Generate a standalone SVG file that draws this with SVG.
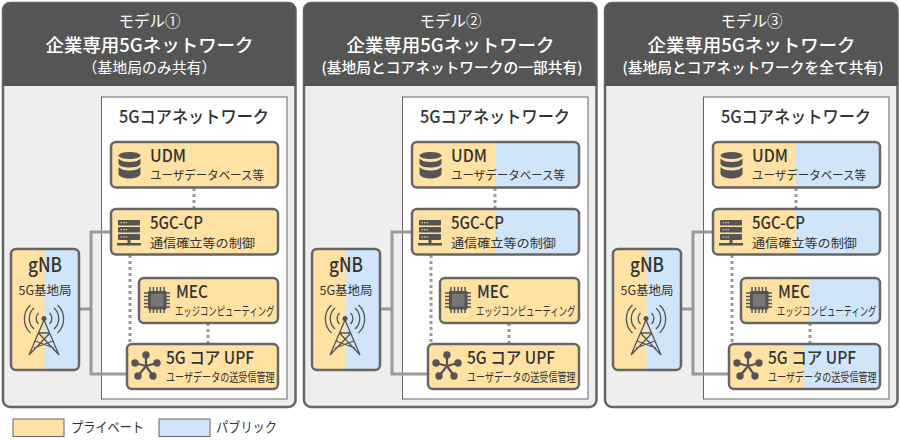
<svg xmlns="http://www.w3.org/2000/svg" xmlns:xlink="http://www.w3.org/1999/xlink" width="900" height="440" viewBox="0 0 900 440">
<style>
text{font-family:"Noto Sans CJK JP","Noto Sans",sans-serif;fill:#333}
.h{fill:#fff;text-anchor:middle}
.h1{font-size:15.500px}
.h2{font-size:18px;font-weight:500}
.h3{font-size:15px}
.h4{font-size:14.500px;font-weight:500}
.t{font-size:17px;font-weight:500}
.s{font-size:12.500px}
.o{fill:#FFE1A4}
.b{fill:#D0E5F9}
.e{fill:none;stroke:#666;stroke-width:2.500}
.panel{fill:#EEE;stroke:#666;stroke-width:2.500}
.head{fill:#555}
.core{fill:#fff;stroke:#666;stroke-width:1}
.solid{fill:none;stroke:#999;stroke-width:3}
.dot{fill:none;stroke:#999;stroke-width:3;stroke-dasharray:3 3}
.i{fill:#555}
.il{fill:none;stroke:#555;stroke-width:1.300}
</style>
<defs>
<g id="i-db"><ellipse class="i" cx="129.500" cy="155.500" rx="11" ry="3.500"/><path class="i" d="M118.500 158.500c2 2.500 6 3.500 11 3.500s9-1 11-3.500v5.500c-1 2.500-6 3.500-11 3.500s-10-1-11-3.500z"/><path class="i" d="M118.500 167c2 2.500 6 3.500 11 3.500s9-1 11-3.500v7c-1 3-6 4.500-11 4.500s-10-1.500-11-4.500z"/></g>
<g id="i-srv"><rect class="i" x="118" y="220" width="22" height="5.500" rx="1"/><rect class="i" x="118" y="227" width="22" height="5.500" rx="1"/><rect class="i" x="118" y="234" width="22" height="6" rx="1"/><rect class="i" x="127.500" y="240" width="3" height="3"/><rect class="i" x="117" y="243" width="24" height="2.500"/><path d="M120.500 222.700h7M120.500 229.700h7M120.500 237h7" stroke="#FFE1A4" stroke-width="1" stroke-dasharray="1.500 1"/></g>
<g id="i-chip"><path d="M150 287v26M153.500 287v26M157 287v26M160.500 287v26M164 287v26M144 293h26M144 296.500h26M144 300h26M144 303.500h26M144 307h26" stroke="#555" stroke-width="1.500" fill="none"/><rect class="i" x="148" y="291" width="18.500" height="18.500" rx="1"/><rect x="151" y="294" width="12.500" height="12.500" fill="#777"/></g>
<g id="i-hub"><path d="M146 366L146 355M146 366L135 363M146 366L138 376M146 366L153 376M146 366L157 363" stroke="#555" stroke-width="2.200"/><circle class="i" cx="146" cy="355" r="3.700"/><circle class="i" cx="135" cy="363" r="3.700"/><circle class="i" cx="138" cy="376" r="3.700"/><circle class="i" cx="153" cy="376" r="3.700"/><circle class="i" cx="157" cy="363" r="3.700"/></g>
<g id="i-tower"><circle class="i" cx="44" cy="318.500" r="2.500"/><path class="il" d="M44 320L29 355M44 320L59 355M38.500 333L50 333M35 341L54 348M53 341L34 348M29 355L50 333M59 355L38.500 333"/><path class="il" d="M38.500 324a7.500 7.500 0 0 1 0-11M49.500 324a7.500 7.500 0 0 0 0-11M34 329a14 14 0 0 1 0-21M54 329a14 14 0 0 0 0-21M30.500 333a19 19 0 0 1 0-28M57.500 333a19 19 0 0 0 0-28"/></g>
</defs>

<g id="model1" transform="translate(0 0)">
<g id="m1-frame"><rect class="panel" x="3" y="3" width="292.500" height="404" rx="7"/><path class="head" d="M3 86V10a7 7 0 0 1 7-7h278.500a7 7 0 0 1 7 7v76z"/>
<text class="h h1" x="149.500" y="27" textLength="62" lengthAdjust="spacingAndGlyphs">モデル①</text>
<text class="h h2" x="149.500" y="52" textLength="208" lengthAdjust="spacingAndGlyphs">企業専用5Gネットワーク</text>
<text class="h h3" x="149.500" y="73" textLength="134" lengthAdjust="spacingAndGlyphs">（基地局のみ共有）</text></g>
<g id="m1-core"><rect class="core" x="101.500" y="97" width="185.500" height="302"/><text class="t" x="119" y="123" textLength="150" lengthAdjust="spacingAndGlyphs">5Gコアネットワーク</text></g>
<g id="m1-connectors"><path class="solid" d="M79 309H91M110 232H91V374H127"/><path class="dot" d="M194 188V209M130 255V344M208 323V344"/></g>
<g id="m1-udm"><rect class="o" x="111" y="142" width="167" height="45.500" rx="5"/><rect class="e" x="111" y="142" width="167" height="45.500" rx="5"/><use href="#i-db"/><text class="t" x="150" y="162" textLength="36" lengthAdjust="spacingAndGlyphs">UDM</text><text class="s" x="150" y="180" textLength="114" lengthAdjust="spacingAndGlyphs">ユーザデータベース等</text></g>
<g id="m1-cp"><rect class="o" x="111" y="209" width="167" height="45.500" rx="5"/><rect class="e" x="111" y="209" width="167" height="45.500" rx="5"/><use href="#i-srv"/><text class="t" x="150" y="229" textLength="53" lengthAdjust="spacingAndGlyphs">5GC-CP</text><text class="s" x="150" y="248" textLength="105" lengthAdjust="spacingAndGlyphs">通信確立等の制御</text></g>
<g id="m1-mec"><rect class="o" x="139" y="278" width="139" height="45" rx="5"/><rect class="e" x="139" y="278" width="139" height="45" rx="5"/><use href="#i-chip"/><text class="t" x="176" y="298" textLength="32" lengthAdjust="spacingAndGlyphs">MEC</text><text class="s" transform="translate(175 316) scale(.667 1)">エッジコンピューティング</text></g>
<g id="m1-upf"><rect class="o" x="127" y="344" width="151" height="45" rx="5"/><rect class="e" x="127" y="344" width="151" height="45" rx="5"/><use href="#i-hub"/><text class="t" x="166" y="364" textLength="88" lengthAdjust="spacingAndGlyphs">5G コア UPF</text><text class="s" transform="translate(166 382) scale(.727 1)">ユーザデータの送受信管理</text></g>
<g id="m1-gnb"><rect class="o" x="11" y="249" width="68" height="121" rx="5"/><path class="b" d="M44.500 249H74a5 5 0 0 1 5 5V365a5 5 0 0 1-5 5H44.500z"/><rect class="e" x="11" y="249" width="68" height="121" rx="5"/><text class="t" x="45" y="272" text-anchor="middle" style="font-size:20px" textLength="34" lengthAdjust="spacingAndGlyphs">gNB</text><text class="s" x="45" y="295" text-anchor="middle" textLength="53" lengthAdjust="spacingAndGlyphs">5G基地局</text><use href="#i-tower"/></g>
</g>

<g id="model2" transform="translate(301 0)">
<g id="m2-frame"><rect class="panel" x="3" y="3" width="292.500" height="404" rx="7"/><path class="head" d="M3 86V10a7 7 0 0 1 7-7h278.500a7 7 0 0 1 7 7v76z"/>
<text class="h h1" x="149.500" y="27" textLength="62" lengthAdjust="spacingAndGlyphs">モデル②</text>
<text class="h h2" x="149.500" y="52" textLength="208" lengthAdjust="spacingAndGlyphs">企業専用5Gネットワーク</text>
<text class="h h4" x="151" y="73" textLength="261" lengthAdjust="spacingAndGlyphs">(基地局とコアネットワークの一部共有)</text></g>
<g id="m2-core"><rect class="core" x="101.500" y="97" width="185.500" height="302"/><text class="t" x="119" y="123" textLength="150" lengthAdjust="spacingAndGlyphs">5Gコアネットワーク</text></g>
<g id="m2-connectors"><path class="solid" d="M79 309H91M110 232H91V374H127"/><path class="dot" d="M194 188V209M130 255V344M208 323V344"/></g>
<g id="m2-udm"><rect class="o" x="111" y="142" width="167" height="45.500" rx="5"/><path class="b" d="M194 142H273a5 5 0 0 1 5 5V182.500a5 5 0 0 1-5 5H194z"/><rect class="e" x="111" y="142" width="167" height="45.500" rx="5"/><use href="#i-db"/><text class="t" x="150" y="162" textLength="36" lengthAdjust="spacingAndGlyphs">UDM</text><text class="s" x="150" y="180" textLength="114" lengthAdjust="spacingAndGlyphs">ユーザデータベース等</text></g>
<g id="m2-cp"><rect class="o" x="111" y="209" width="167" height="45.500" rx="5"/><path class="b" d="M194 209H273a5 5 0 0 1 5 5V249.500a5 5 0 0 1-5 5H194z"/><rect class="e" x="111" y="209" width="167" height="45.500" rx="5"/><use href="#i-srv"/><text class="t" x="150" y="229" textLength="53" lengthAdjust="spacingAndGlyphs">5GC-CP</text><text class="s" x="150" y="248" textLength="105" lengthAdjust="spacingAndGlyphs">通信確立等の制御</text></g>
<g id="m2-mec"><rect class="o" x="139" y="278" width="139" height="45" rx="5"/><rect class="e" x="139" y="278" width="139" height="45" rx="5"/><use href="#i-chip"/><text class="t" x="176" y="298" textLength="32" lengthAdjust="spacingAndGlyphs">MEC</text><text class="s" transform="translate(175 316) scale(.667 1)">エッジコンピューティング</text></g>
<g id="m2-upf"><rect class="o" x="127" y="344" width="151" height="45" rx="5"/><rect class="e" x="127" y="344" width="151" height="45" rx="5"/><use href="#i-hub"/><text class="t" x="166" y="364" textLength="88" lengthAdjust="spacingAndGlyphs">5G コア UPF</text><text class="s" transform="translate(166 382) scale(.727 1)">ユーザデータの送受信管理</text></g>
<g id="m2-gnb"><rect class="o" x="11" y="249" width="68" height="121" rx="5"/><path class="b" d="M44.500 249H74a5 5 0 0 1 5 5V365a5 5 0 0 1-5 5H44.500z"/><rect class="e" x="11" y="249" width="68" height="121" rx="5"/><text class="t" x="45" y="272" text-anchor="middle" style="font-size:20px" textLength="34" lengthAdjust="spacingAndGlyphs">gNB</text><text class="s" x="45" y="295" text-anchor="middle" textLength="53" lengthAdjust="spacingAndGlyphs">5G基地局</text><use href="#i-tower"/></g>
</g>

<g id="model3" transform="translate(602 0)">
<g id="m3-frame"><rect class="panel" x="3" y="3" width="292.500" height="404" rx="7"/><path class="head" d="M3 86V10a7 7 0 0 1 7-7h278.500a7 7 0 0 1 7 7v76z"/>
<text class="h h1" x="149.500" y="27" textLength="62" lengthAdjust="spacingAndGlyphs">モデル③</text>
<text class="h h2" x="149.500" y="52" textLength="208" lengthAdjust="spacingAndGlyphs">企業専用5Gネットワーク</text>
<text class="h h4" x="151" y="73" textLength="261" lengthAdjust="spacingAndGlyphs">(基地局とコアネットワークを全て共有)</text></g>
<g id="m3-core"><rect class="core" x="101.500" y="97" width="185.500" height="302"/><text class="t" x="119" y="123" textLength="150" lengthAdjust="spacingAndGlyphs">5Gコアネットワーク</text></g>
<g id="m3-connectors"><path class="solid" d="M79 309H91M110 232H91V374H127"/><path class="dot" d="M194 188V209M130 255V344M208 323V344"/></g>
<g id="m3-udm"><rect class="o" x="111" y="142" width="167" height="45.500" rx="5"/><path class="b" d="M194 142H273a5 5 0 0 1 5 5V182.500a5 5 0 0 1-5 5H194z"/><rect class="e" x="111" y="142" width="167" height="45.500" rx="5"/><use href="#i-db"/><text class="t" x="150" y="162" textLength="36" lengthAdjust="spacingAndGlyphs">UDM</text><text class="s" x="150" y="180" textLength="114" lengthAdjust="spacingAndGlyphs">ユーザデータベース等</text></g>
<g id="m3-cp"><rect class="o" x="111" y="209" width="167" height="45.500" rx="5"/><path class="b" d="M194 209H273a5 5 0 0 1 5 5V249.500a5 5 0 0 1-5 5H194z"/><rect class="e" x="111" y="209" width="167" height="45.500" rx="5"/><use href="#i-srv"/><text class="t" x="150" y="229" textLength="53" lengthAdjust="spacingAndGlyphs">5GC-CP</text><text class="s" x="150" y="248" textLength="105" lengthAdjust="spacingAndGlyphs">通信確立等の制御</text></g>
<g id="m3-mec"><rect class="o" x="139" y="278" width="139" height="45" rx="5"/><path class="b" d="M207.500 278H273a5 5 0 0 1 5 5V318a5 5 0 0 1-5 5H207.500z"/><rect class="e" x="139" y="278" width="139" height="45" rx="5"/><use href="#i-chip"/><text class="t" x="176" y="298" textLength="32" lengthAdjust="spacingAndGlyphs">MEC</text><text class="s" transform="translate(175 316) scale(.667 1)">エッジコンピューティング</text></g>
<g id="m3-upf"><rect class="o" x="127" y="344" width="151" height="45" rx="5"/><path class="b" d="M201 344H273a5 5 0 0 1 5 5V384a5 5 0 0 1-5 5H201z"/><rect class="e" x="127" y="344" width="151" height="45" rx="5"/><use href="#i-hub"/><text class="t" x="166" y="364" textLength="88" lengthAdjust="spacingAndGlyphs">5G コア UPF</text><text class="s" transform="translate(166 382) scale(.727 1)">ユーザデータの送受信管理</text></g>
<g id="m3-gnb"><rect class="o" x="11" y="249" width="68" height="121" rx="5"/><path class="b" d="M44.500 249H74a5 5 0 0 1 5 5V365a5 5 0 0 1-5 5H44.500z"/><rect class="e" x="11" y="249" width="68" height="121" rx="5"/><text class="t" x="45" y="272" text-anchor="middle" style="font-size:20px" textLength="34" lengthAdjust="spacingAndGlyphs">gNB</text><text class="s" x="45" y="295" text-anchor="middle" textLength="53" lengthAdjust="spacingAndGlyphs">5G基地局</text><use href="#i-tower"/></g>
</g>

<g id="legend">
<rect class="o" x="13" y="419" width="51" height="17.500" stroke="#666"/>
<text x="71" y="432" style="font-size:14px" textLength="73" lengthAdjust="spacingAndGlyphs">プライベート</text>
<rect class="b" x="159" y="419" width="51" height="17.500" stroke="#666"/>
<text x="216" y="432" style="font-size:14px" textLength="61" lengthAdjust="spacingAndGlyphs">パブリック</text>
</g>
</svg>
